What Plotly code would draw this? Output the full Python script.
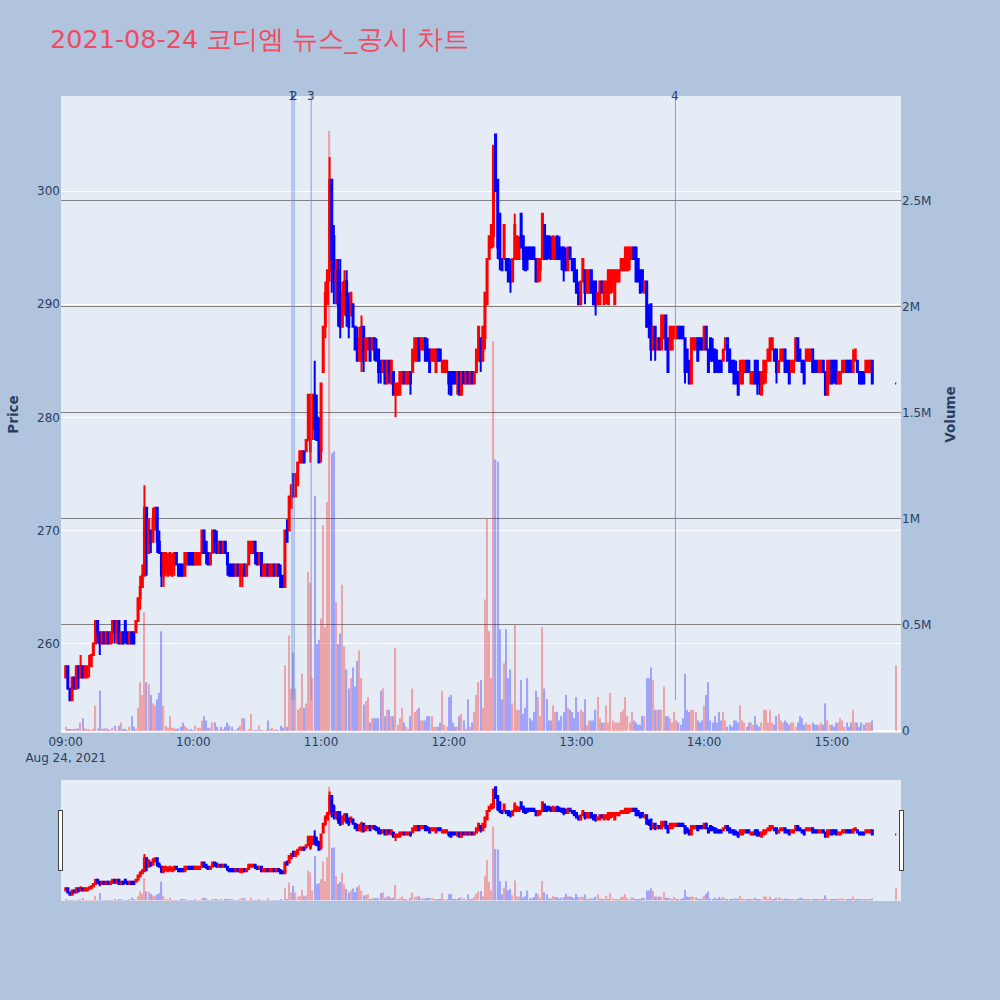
import pandas as pd
import plotly.graph_objects as go

# ---- data (1-minute candles, 2021-08-24) ----
open_ = [
    257,258,256,255,257,256,258,257,258,257,
    257,258,258,259,260,262,261,260,261,260,
    261,260,261,262,261,262,260,261,262,261,
    260,261,261,261,262,264,265,266,272,268,
    270,269,271,272,269,268,266,267,266,267,
    266,267,268,267,267,267,266,267,268,268,
    268,267,267,267,268,270,269,268,267,268,
    270,269,268,269,268,269,268,267,267,267,
    266,267,266,266,267,266,267,268,268,269,
    268,267,268,266,266,267,266,266,267,266,
    267,266,266,265,270,270,272,275,273,274,
    276,276,277,277,278,277,279,282,280,279,
    277,284,288,290,293,301,296,292,293,291,
    288,290,292,290,289,290,288,287,285,285,
    288,285,286,287,286,287,286,286,285,284,
    285,283,285,283,284,282,282,282,283,284,
    283,283,284,284,285,285,287,286,286,287,
    286,286,285,285,284,286,286,284,284,284,
    284,284,284,284,283,284,282,284,283,284,
    283,284,283,284,285,287,285,287,290,294,
    295,296,305,301,298,294,294,294,294,293,
    292,294,294,294,298,296,295,295,295,295,
    295,294,292,293,294,297,296,296,295,294,
    294,296,295,295,295,294,293,295,294,294,
    293,291,290,292,293,291,291,293,292,292,
    290,290,292,290,291,290,291,292,290,292,
    292,293,293,293,293,294,294,295,295,294,
    293,293,291,292,289,290,286,288,286,287,
    286,287,289,287,286,286,287,287,288,288,
    288,287,286,285,283,286,286,287,287,287,
    286,288,286,287,286,286,285,285,285,285,
    286,287,286,285,285,284,284,283,283,284,
    285,285,283,283,285,285,284,282,283,284,
    285,285,286,286,286,284,285,285,286,285,
    285,284,284,285,287,286,285,285,285,285,
    285,286,285,285,284,284,285,284,282,283,
    285,285,285,283,283,284,284,285,285,285,
    284,285,285,284,284,284,284,284,284,285,
    283,
]
high = [
    258,258,256,257,257,258,258,259,258,258,
    258,259,259,260,262,262,261,261,261,261,
    261,261,262,262,262,262,261,261,262,261,
    261,261,261,262,264,266,267,274,272,271,
    270,272,272,272,270,268,268,268,268,268,
    268,268,268,267,267,267,268,268,268,268,
    268,268,268,268,270,270,269,268,268,270,
    270,270,269,269,269,269,268,267,267,267,
    267,267,267,267,267,267,269,269,269,269,
    268,268,268,267,267,267,267,267,267,267,
    267,267,266,270,271,273,274,275,275,276,
    277,277,277,278,282,282,282,285,282,280,
    283,288,292,293,303,301,297,294,294,294,
    292,293,293,291,291,290,288,288,288,289,
    288,287,287,287,287,287,287,286,285,285,
    285,285,285,285,284,283,283,284,284,284,
    284,284,284,286,287,287,287,287,287,287,
    287,286,286,286,286,286,286,285,285,285,
    284,284,284,284,284,284,284,284,284,284,
    284,284,284,286,288,287,288,291,294,296,
    297,304,305,301,298,294,297,294,294,294,
    294,298,296,296,298,296,295,295,295,295,
    295,294,294,294,298,297,296,296,296,296,
    296,296,296,295,295,295,295,295,294,294,
    293,292,292,294,293,293,293,293,292,292,
    291,292,292,292,292,293,293,293,293,293,
    293,294,294,295,295,295,295,295,295,294,
    293,293,292,292,290,290,288,288,287,287,
    289,289,289,287,288,288,288,288,288,288,
    288,287,286,285,287,287,287,287,287,287,
    288,288,286,287,287,286,286,285,285,286,
    287,287,286,285,285,285,284,285,285,285,
    285,285,284,284,285,285,284,284,285,285,
    286,287,287,286,286,285,286,286,286,285,
    285,285,285,287,287,286,285,285,286,286,
    286,286,285,285,285,285,285,284,285,285,
    285,285,285,284,284,285,285,285,285,285,
    286,286,285,284,284,284,285,285,285,285,
    283,
]
low = [
    257,256,255,255,256,256,256,257,257,257,
    257,257,258,259,260,260,259,260,260,260,
    260,260,260,260,260,260,260,260,260,260,
    260,260,260,261,262,263,265,266,266,268,
    268,269,270,268,268,265,265,266,266,266,
    266,266,267,266,266,266,266,267,267,267,
    267,267,267,267,268,268,267,267,267,268,
    268,268,268,268,268,268,266,266,266,266,
    266,266,265,265,266,266,267,268,268,267,
    267,267,266,266,266,266,266,266,266,266,
    266,265,265,265,269,270,272,273,273,274,
    276,276,276,277,278,276,278,278,278,276,
    276,284,287,290,292,291,290,290,288,287,
    288,289,288,287,289,288,286,285,285,284,
    284,285,286,285,286,285,285,283,283,284,
    283,283,283,283,282,280,282,282,283,283,
    283,283,282,284,285,285,285,286,286,285,
    285,284,285,285,284,285,285,284,284,284,
    282,282,283,283,282,282,282,283,283,283,
    283,283,283,284,285,284,285,286,290,294,
    295,295,300,294,293,293,294,293,292,291,
    292,294,294,294,295,293,293,293,294,294,
    294,292,292,292,294,294,294,294,294,294,
    294,294,294,293,292,293,293,294,293,292,
    291,290,290,292,290,291,291,291,290,289,
    290,290,291,290,290,290,291,291,290,292,
    292,293,293,293,293,293,294,294,292,292,
    291,291,291,288,287,285,286,285,286,286,
    286,287,286,284,286,286,287,287,287,287,
    287,283,284,283,283,286,286,285,286,286,
    286,286,284,285,285,284,284,284,284,285,
    286,285,284,284,283,283,282,283,283,284,
    284,284,283,283,283,282,282,282,283,283,
    285,285,286,285,283,284,285,285,284,284,
    283,284,284,285,285,285,284,283,285,285,
    285,284,284,284,284,284,284,282,282,283,
    283,283,283,283,283,284,284,284,284,284,
    284,285,284,283,283,283,284,284,284,283,
    283,
]
close = [
    258,256,255,257,256,258,257,258,257,258,
    258,258,259,260,262,261,260,261,260,261,
    260,261,262,261,262,260,261,260,261,260,
    261,260,260,262,264,265,266,272,268,271,
    269,271,272,269,268,266,268,268,267,268,
    267,268,267,266,266,266,268,268,267,267,
    267,268,268,268,270,268,268,267,268,270,
    269,268,269,268,269,268,267,266,266,266,
    267,266,267,267,266,267,269,269,269,268,
    267,268,266,267,267,266,267,267,266,267,
    266,265,265,270,269,273,274,273,275,276,
    277,277,276,278,282,282,282,279,278,276,
    283,288,291,293,301,294,292,293,290,288,
    291,292,289,288,291,288,286,285,287,288,
    285,287,287,285,287,286,285,284,284,285,
    283,285,284,285,282,283,283,284,284,283,
    284,284,283,286,287,287,285,287,287,285,
    285,284,286,286,286,285,285,285,285,285,
    283,282,283,283,284,282,284,283,284,283,
    284,283,284,286,288,285,288,291,294,296,
    297,304,300,295,294,293,297,293,292,292,
    294,297,296,295,295,294,293,294,294,294,
    294,292,294,294,298,294,294,295,294,296,
    295,294,294,294,293,293,295,294,293,292,
    291,290,292,294,291,293,293,291,290,290,
    291,292,291,292,292,293,293,293,293,293,
    293,294,294,295,295,295,295,294,292,292,
    291,292,292,288,288,286,288,286,287,286,
    289,289,286,284,288,288,288,288,287,287,
    287,284,284,283,287,287,287,285,286,286,
    288,286,284,285,285,284,284,284,284,286,
    287,285,284,284,283,283,282,285,285,285,
    284,284,284,284,283,283,283,284,285,285,
    286,287,287,285,284,285,286,286,284,284,
    283,285,285,287,285,285,284,283,286,286,
    286,284,284,284,285,285,284,282,285,285,
    283,284,283,284,284,285,285,284,284,284,
    285,286,284,283,283,283,285,285,285,283,
    283,
]
# volume in thousands of shares
volume_k = [
    20,10,8,5,8,10,12,40,60,12,
    6,5,3,10,120,12,190,10,10,15,
    5,3,15,25,3,25,40,8,10,3,
    20,70,20,10,110,230,170,560,230,220,
    170,130,120,150,180,470,120,25,15,70,
    15,15,5,12,20,40,25,15,3,5,
    3,25,15,15,50,70,50,15,15,40,
    40,20,3,20,5,20,40,25,20,3,
    3,15,25,60,60,3,5,80,3,3,
    3,25,3,3,2,50,5,15,3,5,
    3,25,15,310,20,450,200,370,200,100,
    110,270,110,130,750,700,250,1110,410,430,
    530,970,490,1080,2830,1310,1320,610,410,460,
    690,400,290,200,250,300,210,330,380,250,
    125,140,160,40,60,60,60,60,190,200,
    70,100,100,70,70,390,30,60,110,40,
    20,10,70,200,90,100,110,50,50,50,
    70,70,70,20,20,20,40,190,30,20,
    160,170,40,20,20,70,80,50,10,150,
    20,40,90,170,230,240,110,620,1000,470,
    250,1840,1280,1270,480,150,320,480,250,290,
    130,500,100,100,240,80,110,250,60,50,
    90,190,160,70,490,200,150,50,50,120,
    90,90,50,70,90,170,110,100,90,60,
    160,90,100,90,150,30,50,50,50,100,
    160,60,40,40,120,40,180,50,40,40,
    40,90,100,160,70,40,90,50,40,30,
    30,70,70,250,250,300,240,100,100,100,
    100,210,70,70,60,40,90,50,40,30,
    60,270,100,90,100,100,90,50,40,50,
    120,170,230,50,40,70,40,90,50,90,
    50,20,30,20,50,50,40,120,50,40,
    20,40,40,30,70,30,20,40,100,100,
    40,100,40,30,70,80,50,40,50,40,
    30,40,40,20,40,70,60,30,40,30,
    30,40,30,30,30,40,30,130,50,30,
    30,20,40,40,60,50,20,40,20,40,
    100,40,40,20,40,30,40,40,40,50,
    310,
]
event_times = ["2021-08-24 10:46:20", "2021-08-24 10:47:20",
               "2021-08-24 10:55:20", "2021-08-24 13:46:30"]
event_labels = ["1", "2", "3", "4"]

times = list(pd.date_range("2021-08-24 09:00", periods=380, freq="min")) + \
        [pd.Timestamp("2021-08-24 15:30")]
volume = [v * 1000 for v in volume_k]
bar_colors = ["red" if c >= o else "blue" for o, c in zip(open_, close)]

x_range = ["2021-08-24 08:57:47", "2021-08-24 15:32:30"]
FONT = "DejaVu Sans"

fig = go.Figure()
fig.add_trace(go.Candlestick(
    x=times, open=open_, high=high, low=low, close=close,
    increasing=dict(line=dict(color="red"), fillcolor="red"),
    decreasing=dict(line=dict(color="blue"), fillcolor="blue"),
    yaxis="y", showlegend=False, name="Price"))
fig.add_trace(go.Bar(
    x=times, y=volume, width=36000,
    marker=dict(color=bar_colors, line=dict(width=0)),
    opacity=0.3, yaxis="y2", showlegend=False, name="Volume"))

for t, lab in zip(event_times, event_labels):
    fig.add_shape(type="line", x0=t, x1=t, xref="x", yref="y", y0=255, y1=308.4,
                  line=dict(color="#6F8BD8", width=1), opacity=0.8)
    fig.add_annotation(x=t, y=1, xref="x", yref="paper", yanchor="middle",
                       text=lab, showarrow=False, font=dict(size=12, color="#2a3f5f"))

fig.update_layout(
    width=1000, height=1000,
    font=dict(family=FONT),
    title=dict(text="2021-08-24 코디엠 뉴스_공시 차트",
               font=dict(family=FONT, size=25.5, color="#EF4B62")),
    paper_bgcolor="#B0C4DE",
    margin=dict(l=61, r=99, t=96, b=100),
    xaxis=dict(type="date", range=x_range,
               rangeslider=dict(visible=True, range=x_range)),
    yaxis=dict(title=dict(text="<b>Price</b>", font=dict(size=13.5)), range=[252.1, 308.4]),
    yaxis2=dict(title=dict(text="<b>Volume</b>", font=dict(size=13.5)), overlaying="y",
                side="right", range=[-9500, 2995000], showgrid=True, gridcolor="gray"),
    showlegend=False,
)
fig.write_html("out.html", config={"displayModeBar": False},
               post_script="document.body.style.margin='0px';")
